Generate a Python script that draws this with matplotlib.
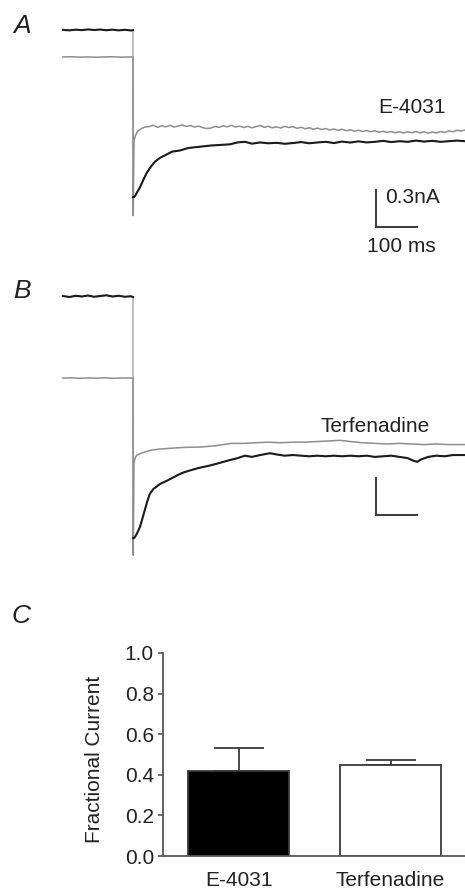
import matplotlib
matplotlib.use("Agg")
import matplotlib.pyplot as plt

plt.rcParams['font.family'] = ['Liberation Sans', 'DejaVu Sans']

W, H = 465, 889

# ---------------- Data ----------------
# Panel A: E-4031 (time in ms relative to the step, current in nA, arbitrary offset)
a_ctrl_t = [-171, -155, -140, -125, -110, -95, -80, -65, -50, -35, -20, -5, 0,
            0, 2.4, 5, 10, 17, 25, 34, 44, 54, 66, 78, 95, 115, 135, 163, 190, 215,
            237, 255, 273, 290, 310, 330, 350, 370, 390, 410, 430, 450, 470, 490,
            510, 530, 550, 570, 590, 610, 630, 650, 670, 690, 710, 730, 750, 770,
            790, 810]
a_ctrl_i = [0.570, 0.566, 0.572, 0.568, 0.574, 0.569, 0.573, 0.567, 0.572, 0.566,
            0.571, 0.565, 0.568,
            -0.79, -0.79, -0.78, -0.75, -0.71, -0.65, -0.59, -0.54, -0.50, -0.47,
            -0.45, -0.42, -0.41, -0.39, -0.38, -0.37, -0.365, -0.36, -0.345, -0.34,
            -0.355, -0.345, -0.352, -0.348, -0.356, -0.350, -0.342, -0.352, -0.345,
            -0.340, -0.350, -0.338, -0.346, -0.336, -0.345, -0.340, -0.332, -0.342,
            -0.335, -0.340, -0.330, -0.338, -0.332, -0.340, -0.335, -0.330, -0.335]
a_drug_t = [-171, -150, -130, -110, -90, -70, -50, -30, -10, 0,
            0.5, 2.4, 6, 10, 15, 22, 29,
            40, 50, 60, 70, 80, 90, 100, 110, 120, 130, 140, 150, 160, 170, 180,
            190, 200, 210, 220, 230, 240, 250, 260, 270, 280, 290, 300, 310, 320,
            330, 340, 350, 360, 370, 380, 390, 400, 410, 420, 430, 440, 450, 460,
            470, 480, 490, 500, 510, 520, 530, 540, 550, 560, 570, 580, 590, 600,
            610, 620, 630, 640, 650, 660, 670, 680, 690, 700, 710, 720, 730, 740,
            750, 760, 770, 780, 790, 800, 810]
a_drug_i = [0.350, 0.352, 0.348, 0.351, 0.347, 0.350, 0.352, 0.348, 0.350, 0.350,
            -0.94, -0.33, -0.29, -0.26, -0.245, -0.23, -0.22,
            -0.215, -0.205, -0.222, -0.210, -0.218, -0.206, -0.220, -0.212, -0.203,
            -0.215, -0.208, -0.220, -0.212, -0.225, -0.232, -0.228, -0.215, -0.222,
            -0.210, -0.218, -0.206, -0.220, -0.212, -0.224, -0.214, -0.226, -0.216,
            -0.208, -0.222, -0.214, -0.226, -0.218, -0.228, -0.214, -0.224, -0.216,
            -0.230, -0.222, -0.234, -0.226, -0.238, -0.228, -0.240, -0.232, -0.244,
            -0.236, -0.246, -0.238, -0.250, -0.242, -0.254, -0.246, -0.256, -0.248,
            -0.258, -0.250, -0.262, -0.254, -0.264, -0.256, -0.266, -0.258, -0.268,
            -0.258, -0.266, -0.256, -0.268, -0.258, -0.270, -0.260, -0.268, -0.256,
            -0.264, -0.252, -0.258, -0.246, -0.252, -0.244]

# Panel B: Terfenadine
b_ctrl_t = [-171, -155, -140, -125, -110, -95, -80, -65, -50, -35, -20, -5, 0,
            0, 2.4, 5, 10, 17, 23, 29, 35, 41, 50, 66, 85, 102, 120, 139, 160, 188,
            210, 237, 255, 273, 290, 310, 334, 350, 370, 390, 410, 430, 450, 470,
            490, 510, 530, 550, 570, 590, 610, 630, 650, 670, 683, 693, 703, 720,
            740, 760, 780, 810]
b_ctrl_i = [1.008, 1.000, 1.010, 1.004, 1.012, 1.002, 1.008, 1.014, 1.004, 1.010,
            1.002, 1.006, 1.000,
            -0.96, -0.96, -0.95, -0.92, -0.87, -0.80, -0.73, -0.66, -0.60, -0.56,
            -0.52, -0.49, -0.46, -0.43, -0.41, -0.39, -0.37, -0.35, -0.325, -0.31,
            -0.29, -0.30, -0.285, -0.27, -0.28, -0.29, -0.285, -0.29, -0.295, -0.29,
            -0.295, -0.29, -0.295, -0.29, -0.295, -0.29, -0.30, -0.295, -0.29,
            -0.30, -0.31, -0.33, -0.34, -0.32, -0.30, -0.29, -0.295, -0.285, -0.285]
b_drug_t = [-171, -150, -130, -110, -90, -70, -50, -30, -10, 0,
            0.5, 2.4, 6, 10, 20, 29, 45, 66, 100, 130, 163, 200, 240, 270, 300,
            330, 360, 390, 420, 450, 480, 505, 530, 560, 590, 620, 650, 680, 710,
            740, 770, 810]
b_drug_i = [0.341, 0.343, 0.339, 0.342, 0.340, 0.343, 0.339, 0.341, 0.342, 0.341,
            -1.10, -0.35, -0.30, -0.285, -0.27, -0.26, -0.245, -0.236, -0.228,
            -0.222, -0.22, -0.21, -0.19, -0.19, -0.185, -0.18, -0.185, -0.18,
            -0.18, -0.175, -0.17, -0.165, -0.175, -0.185, -0.19, -0.195, -0.19,
            -0.195, -0.20, -0.195, -0.20, -0.20]

# Scale bar (100 ms, 0.3 nA)
scale_ms = 100
scale_na = 0.3

# Panel C: fractional current
categories = ['E-4031', 'Terfenadine']
frac_mean = [0.42, 0.45]
frac_sem = [0.11, 0.025]
bar_fill = ['black', 'white']
y_ticks = [0.0, 0.2, 0.4, 0.6, 0.8, 1.0]

# ---------------- Figure ----------------
fig = plt.figure(figsize=(W / 100, H / 100), dpi=100)
fig.patch.set_facecolor('white')

def px_rect(x0, y0, x1, y1):
    return [x0 / W, 1 - y1 / H, (x1 - x0) / W, (y1 - y0) / H]

def ftext(x, y, s, **kw):
    fig.text(x / W, 1 - y / H, s, **kw)

PX_PER_MS = 0.41
PX_PER_NA = 123.0
STEP_X = 133

def trace_axes(ytop, ybot, y_zero):
    ax = fig.add_axes(px_rect(0, ytop, W, ybot))
    ax.set_xlim(-STEP_X / PX_PER_MS, (W - STEP_X) / PX_PER_MS)
    ax.set_ylim((y_zero - ybot) / PX_PER_NA, (y_zero - ytop) / PX_PER_NA)
    ax.axis('off')
    return ax

BLACK = '#1c1c1c'
GRAY = '#8e8e8e'
BAR = '#3a3a3a'

def draw_panel(ax, ct, ci, dt, di, sb_t, sb_i):
    n_pre = ct.index(0) + 1
    ax.plot(ct, ci, color=GRAY, lw=0.8, zorder=1)
    ax.plot(dt, di, color=GRAY, lw=1.1, zorder=2)
    ax.plot(ct[:n_pre], ci[:n_pre], color=BLACK, lw=1.5, zorder=3)
    ax.plot(ct[n_pre:], ci[n_pre:], color=BLACK, lw=1.5, zorder=3)
    ax.plot([sb_t, sb_t, sb_t + scale_ms], [sb_i + scale_na, sb_i, sb_i],
            color=BAR, lw=1.4, solid_joinstyle='miter', zorder=4)

axA = trace_axes(0, 262, 100)
draw_panel(axA, a_ctrl_t, a_ctrl_i, a_drug_t, a_drug_i, 593, -1.033)
axB = trace_axes(270, 580, 420)
draw_panel(axB, b_ctrl_t, b_ctrl_i, b_drug_t, b_drug_i, 593, -0.772)

TXT = '#222222'
ftext(13, 33, 'A', fontsize=19, style='italic', color=TXT, va='baseline')
ftext(13, 298, 'B', fontsize=19, style='italic', color=TXT, va='baseline')
ftext(12, 623, 'C', fontsize=19, style='italic', color=TXT, va='baseline')

ftext(378, 113, 'E-4031', fontsize=15, color=TXT, va='baseline')
ftext(320, 432, 'Terfenadine', fontsize=15, color=TXT, va='baseline')
ftext(385, 203, '0.3nA', fontsize=15, color=TXT, va='baseline')
ftext(367, 252, '100 ms', fontsize=15, color=TXT, va='baseline')

# Panel C bar chart
axC = fig.add_axes(px_rect(163, 653, W, 856))
xpos = list(range(len(categories)))
axC.bar(xpos, frac_mean, width=0.664, color=bar_fill, edgecolor=BAR,
        linewidth=1.3, zorder=2)
axC.errorbar(xpos, frac_mean, yerr=[[0] * len(frac_sem), frac_sem], fmt='none',
             ecolor=BAR, elinewidth=1.3, capsize=18, capthick=1.3, zorder=1)
axC.set_xlim(-0.497, 1.49)
axC.set_ylim(0, 1.0)
axC.set_yticks(y_ticks)
axC.set_yticklabels([f'{v:.1f}' for v in y_ticks])
axC.set_xticks(xpos)
axC.set_xticklabels(categories)
for side in ('top', 'right'):
    axC.spines[side].set_visible(False)
for side in ('left', 'bottom'):
    axC.spines[side].set_color('#555555')
    axC.spines[side].set_linewidth(1.3)
axC.tick_params(axis='y', length=3.5, width=1.2, color='#555555', pad=3,
                labelsize=15, labelcolor=TXT)
axC.tick_params(axis='x', length=0, pad=11, labelsize=15, labelcolor=TXT)
axC.set_ylabel('Fractional Current', fontsize=15, color=TXT)
axC.yaxis.set_label_coords(-0.195, 0.478)

fig.savefig('out.png', dpi=100, facecolor='white')
